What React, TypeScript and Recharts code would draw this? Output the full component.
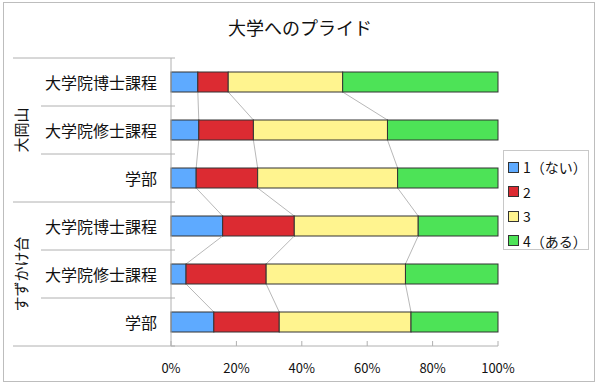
import React from "react";
import { BarChart, Bar, XAxis, YAxis, usePlotArea } from "recharts";

const categories = ["大学院博士課程", "大学院修士課程", "学部", "大学院博士課程", "大学院修士課程", "学部"];
const groups = ["大岡山", "すずかけ台"];
const groupOf = [0, 0, 0, 1, 1, 1];
const seriesNames = ["1（ない）", "2", "3", "4（ある）"];
const seriesColors = ["#5eaaff", "#dc2b32", "#fff48f", "#4de357"];
const v1 = [8.2, 8.5, 7.7, 15.8, 4.6, 13.1];
const v2 = [9.3, 16.7, 18.8, 21.9, 24.5, 20.0];
const v3 = [35.0, 41.0, 42.8, 37.9, 42.6, 40.3];
const v4 = [47.5, 33.8, 30.7, 24.4, 28.3, 26.6];
const xTicks = [0, 20, 40, 60, 80, 100];

const keys = ["s1", "s2", "s3", "s4"];
const seriesVals = [v1, v2, v3, v4];

const data = categories.map((c, i) => ({
    idx: i,
    s1: v1[i],
    s2: v2[i],
    s3: v3[i],
    s4: v4[i],
}));

const FONT = "'Noto Sans CJK JP', 'Noto Sans', sans-serif";

const cumTo = (row: number, s: number) => {
    let t = 0;
    for (let k = 0; k <= s; k++) t += seriesVals[k][row];
    return t;
};

// bar segment + grey "series line" to the same boundary in the next row
const SegShape = (props: any) => {
    const { x, y, width, height, fill, index, s } = props;
    const area = usePlotArea();
    let link = null;
    if (area && s < 3 && index < categories.length - 1) {
        const band = area.height / categories.length;
        const nx = area.x + (cumTo(index + 1, s) / 100) * area.width;
        link = (
            <line x1={x + width} y1={y + height} x2={nx} y2={y + band}
                stroke="#b8b8b8" strokeWidth={1} />
        );
    }
    return (
        <g>
            <rect x={x} y={y} width={width} height={height} fill={fill} stroke="#333" strokeWidth={1} />
            {link}
        </g>
    );
};

const CatTick = (props: any) => {
    const { x, y, payload } = props;
    const area = usePlotArea();
    const i = Number(payload.value);
    const band = area ? area.height / categories.length : 48;
    const top = y - band / 2;
    const firstOfGroup = i === 0 || groupOf[i] !== groupOf[i - 1];
    const isLast = i === categories.length - 1;
    const isMid = i === 1 || i === 4;
    return (
        <g>
            <line x1={firstOfGroup ? 13 : 41} y1={top} x2={175} y2={top} stroke="#b0b0b0" />
            {isLast && <line x1={13} y1={y + band / 2} x2={175} y2={y + band / 2} stroke="#b0b0b0" />}
            <text x={x} y={y} textAnchor="end" dominantBaseline="central"
                fontSize={16} fill="#111" fontFamily={FONT}>
                {categories[i]}
            </text>
            {isMid && (
                <text x={20} y={y} textAnchor="middle" dominantBaseline="central"
                    transform={`rotate(-90 20 ${y})`} fontSize={15} fill="#111" fontFamily={FONT}>
                    {groups[groupOf[i]]}
                </text>
            )}
        </g>
    );
};

const PctTick = (props: any) => {
    const { x, y, payload } = props;
    return (
        <g>
            <line x1={x} y1={y - 5} x2={x} y2={y} stroke="#b0b0b0" />
            <text x={x} y={y + 21} textAnchor="middle" dominantBaseline="central"
                fontSize={13} fill="#111" fontFamily={FONT}>
                {payload.value}%
            </text>
        </g>
    );
};

const App: React.FC = () => {
    return (
        <div style={{ position: "fixed", left: 0, top: 0, width: 600, height: 385, background: "#fff", fontFamily: FONT }}>
            <div style={{ position: "absolute", left: 3, top: 2, width: 590, height: 378, border: "1.5px solid #bdbdbd" }} />
            <div style={{ position: "absolute", left: 0, top: 14, width: 600, textAlign: "center", fontSize: 18, color: "#111" }}>
                大学へのプライド
            </div>
            <div style={{ position: "absolute", left: 0, top: 0 }}>
                <BarChart layout="vertical" width={600} height={385} data={data}
                    margin={{ top: 58, right: 102, left: 0, bottom: 9 }} barSize={20}>
                    <XAxis type="number" domain={[0, 100]} ticks={xTicks} interval={0} height={30}
                        axisLine={{ stroke: "#b0b0b0" }} tickLine={false} tickSize={0} tickMargin={0}
                        tick={<PctTick />} />
                    <YAxis type="category" dataKey="idx" width={171} interval={0}
                        axisLine={{ stroke: "#b0b0b0" }} tickLine={false} tickSize={0} tickMargin={14}
                        tick={<CatTick />} />
                    {keys.map((k, s) => (
                        <Bar key={k} dataKey={k} name={seriesNames[s]} stackId="a" fill={seriesColors[s]}
                            isAnimationActive={false} shape={<SegShape s={s} />} />
                    ))}
                </BarChart>
            </div>
            <div style={{ position: "absolute", left: 503, top: 150, width: 84, height: 98, border: "1px solid #c8c8c8", background: "#fff" }}>
                {seriesNames.map((n, s) => (
                    <div key={n} style={{ position: "absolute", left: 4, top: 8 + s * 24.5, height: 16, display: "flex", alignItems: "center", fontSize: 14, color: "#111", whiteSpace: "nowrap" }}>
                        <span style={{ display: "inline-block", width: 9, height: 9, background: seriesColors[s], border: "1px solid #333", marginRight: 4 }} />
                        {n}
                    </div>
                ))}
            </div>
        </div>
    );
};

export default App;
